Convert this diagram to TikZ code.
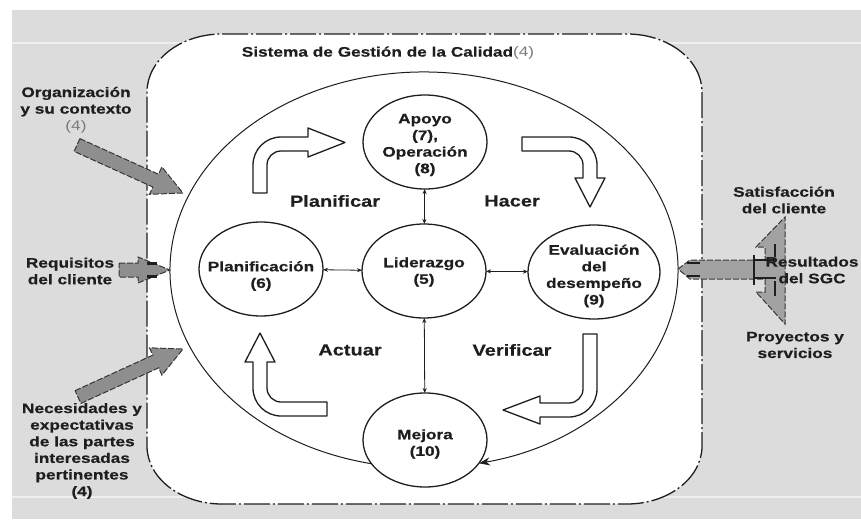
\documentclass[tikz,border=0pt]{standalone}
\usepackage{fontspec}
\setmainfont{Liberation Sans}[FakeStretch=1.25,BoldFeatures={FakeBold=0.4}]
\usetikzlibrary{arrows.meta,calc,shapes.geometric}
\definecolor{bggrey}{HTML}{DCDCDC}
\definecolor{ink}{HTML}{1E1E1E}
\definecolor{fourgrey}{HTML}{7A7A7A}
\definecolor{fatfill}{HTML}{8E8E8E}
\definecolor{fatfilltwo}{HTML}{A2A2A2}
\definecolor{fatline}{HTML}{363636}
\newcommand\qmfat[5]{% tail, tip, half shaft, half head, head length
  \coordinate (fa-b) at ($(#2)!#5!(#1)$);
  \draw[fatarr] ($(#1)!#3!90:(#2)$) -- ($(fa-b)!#3!90:(#2)$) -- ($(fa-b)!#4!90:(#2)$)
    -- (#2) -- ($(fa-b)!#4!-90:(#2)$) -- ($(fa-b)!#3!-90:(#2)$) -- ($(#1)!#3!-90:(#2)$) -- cycle;
}
\begin{document}
\begin{tikzpicture}[x=1pt,y=-1pt,
  every node/.style={inner sep=0pt, outer sep=0pt},
  lbl/.style={font=\fontsize{13.8}{16.6}\selectfont\bfseries, text=ink, align=center},
  pdca/.style={font=\fontsize{16}{19}\selectfont\bfseries, text=ink},
  circ/.style={draw=ink, line width=1.3pt, ellipse, minimum width=124pt, minimum height=94pt, fill=white},
  link/.style={draw=ink, line width=0.8pt, {Stealth[length=5pt,width=4pt]}-{Stealth[length=5pt,width=4pt]}},
  blockarr/.style={draw=ink, line width=1.3pt, fill=white, line join=round},
  fatarr/.style={draw=fatline, line width=1pt, dash pattern=on 6pt off 2pt, fill=fatfill},
  boxline/.style={draw=ink, line width=1.3pt, dash pattern=on 26pt off 3pt on 2pt off 3pt, fill=white},
  inkmark/.style={draw=ink, line width=2.5pt}
]
\useasboundingbox (0,0) rectangle (861,519);
\fill[white] (0,0) rectangle (861,519);
\fill[bggrey] (12,10) rectangle (861,519);
\draw[line width=1.2pt, white!55!bggrey] (12,43) -- (861,43);
\draw[line width=1.2pt, white!55!bggrey] (12,497) -- (861,497);

% system box
\draw[boxline] (222,34) -- (627,34)
  arc[start angle=90,end angle=0,x radius=75pt,y radius=58pt] -- (702,446)
  arc[start angle=0,end angle=-90,x radius=75pt,y radius=58pt] -- (222,504)
  arc[start angle=270,end angle=180,x radius=75pt,y radius=58pt] -- (147,92)
  arc[start angle=180,end angle=90,x radius=75pt,y radius=58pt] -- cycle;
\node[lbl] (title) at (388,53) {Sistema de Gestión de la Calidad{\mdseries\color{fourgrey}(4)}};

% big cycle
\coordinate (bigc) at (424,270);
\draw[ink, line width=1pt, -{Stealth[length=11pt,width=8pt]}]
  ([shift={(258:254pt and 198pt)}]bigc) arc[start angle=258,end angle=-77.5,x radius=254pt,y radius=198pt];

% circles
\node[circ] (apo) at (425,142) {};
\node[circ] (lid) at (424,271) {};
\node[circ] (pla) at (261,269) {};
\node[circ, minimum width=132pt] (eva) at (594,272) {};
\node[circ] (mej) at (425,440) {};

\draw[link] (apo) -- (lid);
\draw[link] (pla) -- (lid);
\draw[link] (lid) -- (eva);
\draw[link] (lid) -- (mej);

\node[lbl] (apo-t) at (425,145) {Apoyo\\(7),\\Operación\\(8)};
\node[lbl] (lid-t) at (424,272) {Liderazgo\\(5)};
\node[lbl] (pla-t) at (261,276) {Planificación\\(6)};
\node[lbl] (eva-t) at (594,276) {Evaluación\\del\\desempeño\\(9)};
\node[lbl] (mej-t) at (425,444) {Mejora\\(10)};

% PDCA block arrows
\draw[blockarr] (253,193) -- (253,165) arc[start angle=180,end angle=90,radius=28pt] -- (308,137) -- (308,128)
  -- (345,142.5) -- (308,157) -- (308,151) -- (281,151) arc[start angle=90,end angle=180,radius=14pt] -- (267,193) -- cycle;
\draw[blockarr] (522,137) -- (569,137) arc[start angle=90,end angle=0,radius=28pt] -- (597,178) -- (605,178)
  -- (590,207) -- (575,178) -- (583,178) -- (583,165) arc[start angle=0,end angle=90,radius=14pt] -- (522,151) -- cycle;
\draw[blockarr] (583,334) -- (597,334) -- (597,389) arc[start angle=0,end angle=-90,radius=28pt] -- (540,417) -- (540,424)
  -- (503,410) -- (540,396) -- (540,403) -- (569,403) arc[start angle=-90,end angle=0,radius=14pt] -- cycle;
\draw[blockarr] (327,402) -- (327,416) -- (281,416) arc[start angle=-90,end angle=-180,radius=28pt] -- (253,362) -- (245,362)
  -- (260,333) -- (275,362) -- (267,362) -- (267,388) arc[start angle=180,end angle=270,radius=14pt] -- cycle;

\node[pdca] (plan) at (335,201) {Planificar};
\node[pdca] (hacer) at (512,201) {Hacer};
\node[pdca] (actuar) at (350,350) {Actuar};
\node[pdca] (verif) at (512,350) {Verificar};

% inputs
\coordinate (org-tail) at (77,145); \coordinate (org-tip) at (183,193);
\qmfat{org-tail}{org-tip}{7pt}{15pt}{30pt}
\coordinate (req-tail) at (119,270); \coordinate (req-tip) at (170,270);
\qmfat{req-tail}{req-tip}{7pt}{13pt}{32pt}
\draw[inkmark] (147,263.5) -- (157,263.5);
\draw[inkmark] (147,276.5) -- (157,276.5);
\coordinate (nec-tail) at (78,397); \coordinate (nec-tip) at (183,349);
\qmfat{nec-tail}{nec-tip}{7pt}{15pt}{30pt}

\node[lbl] (org-t) at (76,110) {Organización\\y su contexto\\{\mdseries\color{fourgrey}(4)}};
\node[lbl] (req-t) at (70,271) {Requisitos\\del cliente};
\node[lbl] (nec-t) at (82,451) {Necesidades y\\expectativas\\de las partes\\interesadas\\pertinentes\\(4)};

% outputs
\draw[fatarr, fill=fatfilltwo] (678,269) -- (690,260) -- (765,260) -- (765,247) -- (756,247) -- (785,217)
  -- (785,324) -- (756,292) -- (765,292) -- (765,279) -- (690,279) -- cycle;
\draw[inkmark] (687,263) -- (700,263);
\draw[inkmark] (687,276) -- (700,276);
\draw[inkmark, line width=2pt] (754,255) -- (754,285);
\draw[inkmark, line width=2pt] (754,260) -- (776,260);
\draw[inkmark, line width=2pt] (754,278) -- (776,278);
\draw[inkmark, line width=2pt] (775,244) -- (775,257);
\draw[inkmark, line width=2pt] (775,281) -- (775,296);

\node[lbl] (sat-t) at (784,200) {Satisfacción\\del cliente};
\node[lbl] (res-t) at (812,270) {Resultados\\del SGC};
\node[lbl] (pro-t) at (795,345) {Proyectos y\\servicios};
\end{tikzpicture}
\end{document}
